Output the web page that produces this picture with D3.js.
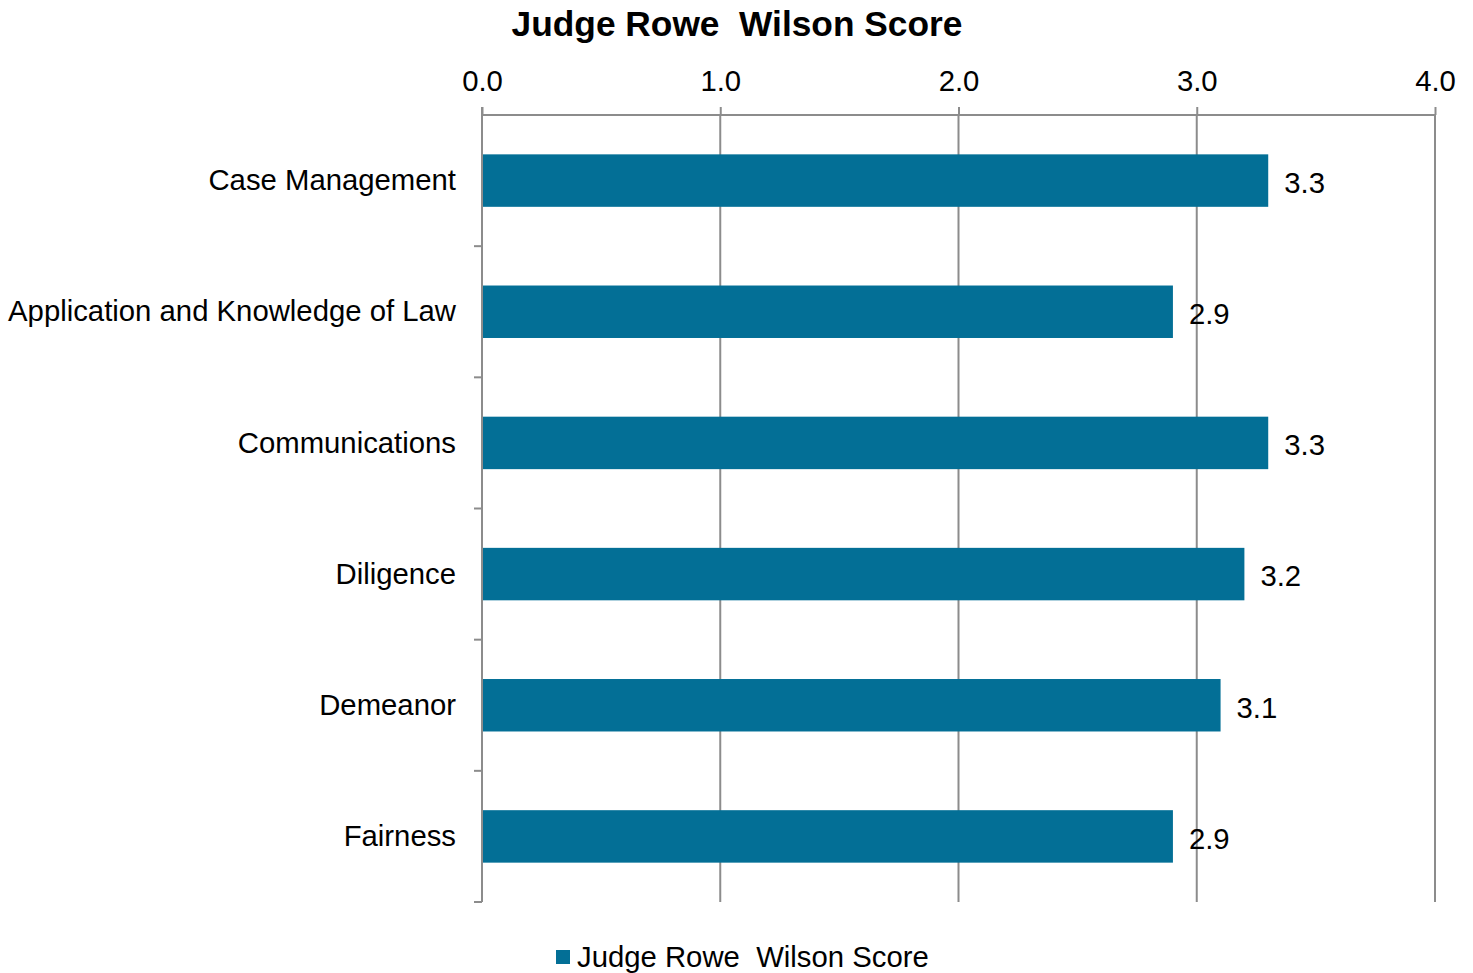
<!DOCTYPE html>
<html>
<head>
<meta charset="utf-8">
<script src="https://cdn.jsdelivr.net/npm/d3@7"></script>
<style>
  body { margin: 0; background: #fff; }
  text { font-family: "Liberation Sans", Arial, sans-serif; fill: #000; white-space: pre; }
</style>
</head>
<body>
<svg width="1473" height="973"></svg>
<script>
let width = 1473,
    height = 973;

let categories = ["Case Management", "Application and Knowledge of Law", "Communications", "Diligence", "Demeanor", "Fairness"];
let scores = [3.3, 2.9, 3.3, 3.2, 3.1, 2.9];
let tickValues = [0, 1, 2, 3, 4];
let seriesName = "Judge Rowe  Wilson Score";

let barColor = "#036f96",
    gridColor = "#8c8c8c";

let plotLeft = 482, plotRight = 1435, plotTop = 115, plotBottom = 902;
let labelSize = 29.3;

let svg = d3.select("svg");

let x = d3.scaleLinear().domain([0, 4]).range([plotLeft, plotRight]);
let y = d3.scaleBand().domain(categories).range([plotTop, plotBottom]).paddingInner(0.6).paddingOuter(0.3);
let yb = d3.scaleBand().domain(categories).range([plotTop, plotBottom]);

// gridlines
svg.append("g")
    .selectAll("line")
    .data(tickValues.slice(1))
    .enter().append("line")
    .attr("x1", d => x(d)).attr("x2", d => x(d))
    .attr("y1", plotTop).attr("y2", plotBottom)
    .attr("stroke", gridColor).attr("stroke-width", 2);

// top axis
let xAxis = svg.append("g")
    .attr("transform", `translate(0,${plotTop})`)
    .call(d3.axisTop(x).tickValues(tickValues).tickFormat(d3.format(".1f")).tickSize(8).tickPadding(16));
xAxis.select(".domain").attr("stroke", gridColor).attr("stroke-width", 2).attr("d", `M${plotLeft},0H${plotRight}`);
xAxis.selectAll(".tick line").attr("stroke", gridColor).attr("stroke-width", 2);
xAxis.selectAll(".tick text").attr("font-size", labelSize).attr("font-family", "Liberation Sans, Arial, sans-serif").attr("fill", "#000");

// bars
svg.append("g")
    .selectAll("rect")
    .data(categories)
    .enter().append("rect")
    .attr("x", plotLeft + 1)
    .attr("y", d => y(d))
    .attr("width", (d, i) => x(scores[i]) - plotLeft - 1)
    .attr("height", y.bandwidth())
    .attr("fill", barColor);

// left axis
let bandEdges = categories.map(d => yb(d)).concat([plotBottom]);
let ly = svg.append("g");
ly.append("line")
    .attr("x1", plotLeft).attr("x2", plotLeft)
    .attr("y1", plotTop - 8).attr("y2", plotBottom)
    .attr("stroke", gridColor).attr("stroke-width", 2);
ly.selectAll("line.t")
    .data(bandEdges.slice(1))
    .enter().append("line")
    .attr("class", "t")
    .attr("x1", plotLeft - 8).attr("x2", plotLeft)
    .attr("y1", d => d).attr("y2", d => d)
    .attr("stroke", gridColor).attr("stroke-width", 2);

// category labels
svg.append("g")
    .selectAll("text")
    .data(categories)
    .enter().append("text")
    .attr("x", plotLeft - 26)
    .attr("y", d => yb(d) + yb.bandwidth() / 2)
    .attr("dy", "0.33em")
    .attr("text-anchor", "end")
    .attr("font-size", labelSize)
    .text(d => d);

// value labels
svg.append("g")
    .selectAll("text")
    .data(categories)
    .enter().append("text")
    .attr("x", (d, i) => x(scores[i]) + 16)
    .attr("y", d => yb(d) + yb.bandwidth() / 2 + 2)
    .attr("dy", "0.35em")
    .attr("font-size", labelSize)
    .text((d, i) => d3.format(".1f")(scores[i]));

// title
svg.append("text")
    .attr("x", 737)
    .attr("y", 36)
    .attr("text-anchor", "middle")
    .attr("font-size", 35.3)
    .attr("font-weight", "bold")
    .text(seriesName);

// legend
let legend = svg.append("g");
legend.append("rect")
    .attr("x", 556).attr("y", 950)
    .attr("width", 14).attr("height", 14)
    .attr("fill", barColor);
legend.append("text")
    .attr("x", 577).attr("y", 967)
    .attr("font-size", labelSize)
    .text(seriesName);
</script>
</body>
</html>
